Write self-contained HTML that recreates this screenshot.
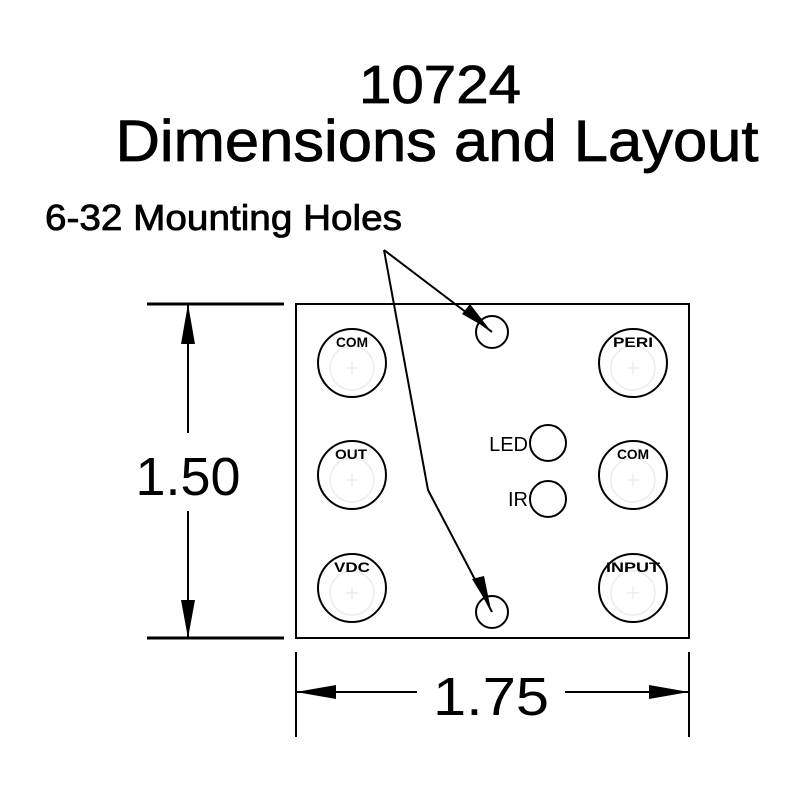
<!DOCTYPE html>
<html><head><style>html,body{margin:0;padding:0;background:#fff}svg{display:block}</style></head>
<body>
<svg width="800" height="787" viewBox="0 0 800 787" xmlns="http://www.w3.org/2000/svg">
<rect width="800" height="787" fill="#fff"/>
<g font-family="Liberation Sans, Arial, sans-serif" fill="#000" stroke="#000" stroke-width="0.8">
<text x="440" y="103" font-size="54" text-anchor="middle" textLength="162" lengthAdjust="spacingAndGlyphs">10724</text>
<text x="437" y="161" font-size="58" text-anchor="middle" textLength="643" lengthAdjust="spacingAndGlyphs">Dimensions and Layout</text>
<text x="45" y="230" font-size="36" textLength="357" lengthAdjust="spacingAndGlyphs">6-32 Mounting Holes</text>
</g>
<g stroke="#000" fill="none" stroke-width="2">
<rect x="296" y="304" width="393" height="334"/>
<line x1="147" y1="304" x2="284" y2="304" stroke-width="3"/>
<line x1="147" y1="638" x2="284" y2="638" stroke-width="3"/>
<line x1="188" y1="304" x2="188" y2="433"/>
<line x1="188" y1="511" x2="188" y2="638"/>
<line x1="296" y1="652" x2="296" y2="737"/>
<line x1="689" y1="652" x2="689" y2="737"/>
<line x1="296" y1="692" x2="417" y2="692"/>
<line x1="565" y1="692" x2="689" y2="692"/>
<line x1="384" y1="250" x2="492" y2="332"/>
<polyline points="384,250 428,490 492,612"/>
</g>
<g fill="#000">
<polygon points="188,304 181,344 195,344"/>
<polygon points="188,638 181,600 195,600"/>
<polygon points="296,692 336,685 336,699"/>
<polygon points="689,692 649,685 649,699"/>
<polygon points="490,330 462,314 470,304"/>
<polygon points="491,610 472,579 484,576"/>
</g>
<g font-family="Liberation Sans, Arial, sans-serif" fill="#000" font-weight="300" text-anchor="middle">
<text x="188" y="495" font-size="54" textLength="105" lengthAdjust="spacingAndGlyphs">1.50</text>
<text x="491" y="715" font-size="54" textLength="116" lengthAdjust="spacingAndGlyphs">1.75</text>
</g>
<g stroke="#000" stroke-width="2" fill="none">
<circle cx="352" cy="363" r="34"/><circle cx="352" cy="475" r="34"/><circle cx="352" cy="588" r="34"/>
<circle cx="633" cy="363" r="34"/><circle cx="633" cy="475" r="34"/><circle cx="633" cy="588" r="34"/>
<circle cx="492" cy="332" r="16"/><circle cx="492" cy="612" r="16"/>
<circle cx="548" cy="443" r="18"/><circle cx="548" cy="499" r="18"/>
</g>
<g stroke="#ececec" stroke-width="1.5" fill="none">
<circle cx="352" cy="368" r="22"/><circle cx="352" cy="480" r="22"/><circle cx="352" cy="593" r="22"/>
<circle cx="633" cy="368" r="22"/><circle cx="633" cy="480" r="22"/><circle cx="633" cy="593" r="22"/>
<path d="M346 368h12M352 362v12M346 480h12M352 474v12M346 593h12M352 587v12M627 368h12M633 362v12M627 480h12M633 474v12M627 593h12M633 587v12"/>
</g>
<g font-family="Liberation Sans, Arial, sans-serif" font-weight="bold" font-size="14" fill="#000" text-anchor="middle">
<text x="352" y="347" textLength="32" lengthAdjust="spacingAndGlyphs">COM</text>
<text x="633" y="347" textLength="40" lengthAdjust="spacingAndGlyphs">PERI</text>
<text x="351" y="459" textLength="32" lengthAdjust="spacingAndGlyphs">OUT</text>
<text x="633" y="459" textLength="32" lengthAdjust="spacingAndGlyphs">COM</text>
<text x="352" y="572" textLength="36" lengthAdjust="spacingAndGlyphs">VDC</text>
<text x="633" y="572" textLength="54" lengthAdjust="spacingAndGlyphs">INPUT</text>
</g>
<g font-family="Liberation Sans, Arial, sans-serif" font-size="20" fill="#000" text-anchor="end">
<text x="528" y="451">LED</text>
<text x="528" y="506">IR</text>
</g>
</svg>
</body></html>
